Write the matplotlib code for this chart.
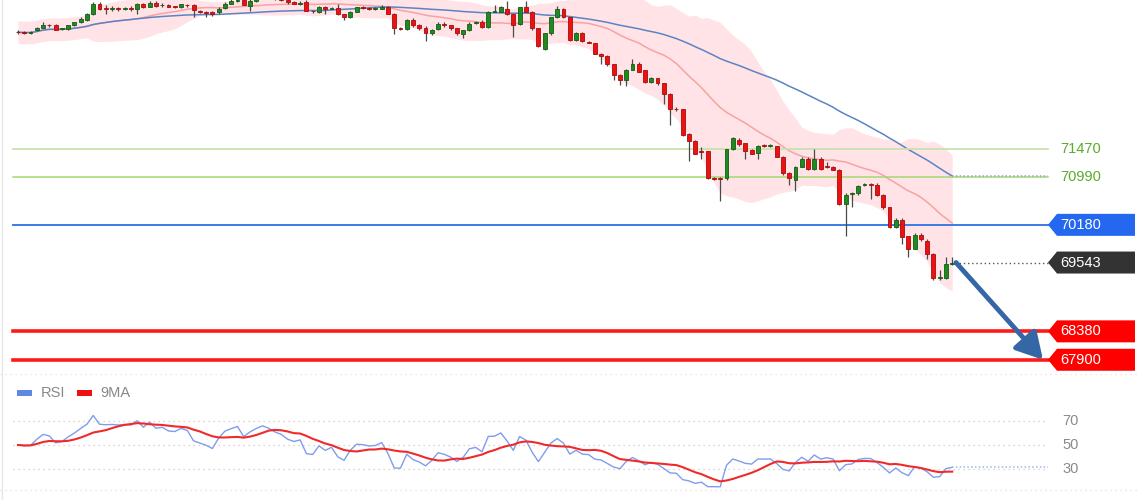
import numpy as np
import pandas as pd
import matplotlib.pyplot as plt
from matplotlib.patches import Polygon, Rectangle
from matplotlib.transforms import blended_transform_factory

plt.rcParams['font.family'] = ['Liberation Sans', 'DejaVu Sans']

# OHLC, one value per candle
opens = [73440, 73435, 73425, 73465, 73515, 73555, 73550, 73490, 73495, 73550,
         73600, 73650, 73735, 73920, 73835, 73830, 73835, 73830, 73840, 73835,
         73905, 73870, 73935, 73890, 73900, 73870, 73855, 73895, 73890, 73790,
         73775, 73785, 73770, 73850, 73920, 73955, 73985, 73885, 73960, 74010,
         74050, 74030, 74000, 73975, 73950, 73920, 73950, 73795, 73770, 73870,
         73835, 73850, 73735, 73685, 73785, 73855, 73845, 73835, 73835, 73855,
         73750, 73500, 73495, 73650, 73550, 73515, 73415, 73495, 73580, 73550,
         73500, 73400, 73465, 73590, 73615, 73530, 73785, 73785, 73835, 73735,
         73580, 73855, 73785, 73500, 73160, 73415, 73685, 73835, 73685, 73310,
         73430, 73265, 73245, 73075, 73040, 72890, 72720, 72635, 72805, 72905,
         72790, 72600, 72655, 72570, 72385, 72145, 72130, 71720, 71605, 71420,
         71420, 70965, 70960, 70965, 71455, 71620, 71555, 71450, 71400, 71520,
         71515, 71505, 71335, 71050, 70945, 71165, 71300, 71130, 71300, 71170,
         71165, 71115, 70525, 70700, 70710, 70850, 70860, 70860, 70690, 70475,
         70150, 70270, 69985, 69780, 70015, 69915, 69695, 69280, 69275, 69510]
closes = [73435, 73425, 73430, 73500, 73565, 73550, 73480, 73495, 73550, 73600,
          73665, 73735, 73920, 73835, 73830, 73835, 73830, 73840, 73835, 73905,
          73855, 73935, 73885, 73900, 73870, 73865, 73905, 73890, 73805, 73785,
          73765, 73735, 73835, 73920, 73955, 73985, 73900, 73960, 74010, 74050,
          74030, 74000, 73980, 73940, 73920, 73935, 73800, 73790, 73870, 73820,
          73850, 73735, 73685, 73785, 73855, 73850, 73835, 73840, 73870, 73750,
          73500, 73495, 73650, 73550, 73500, 73415, 73480, 73580, 73550, 73500,
          73415, 73465, 73580, 73600, 73530, 73785, 73790, 73855, 73735, 73565,
          73855, 73785, 73500, 73195, 73415, 73685, 73835, 73700, 73310, 73430,
          73280, 73260, 73075, 73040, 72890, 72720, 72635, 72805, 72905, 72770,
          72600, 72655, 72570, 72385, 72145, 72130, 71705, 71605, 71385, 71410,
          70965, 70960, 70955, 71455, 71640, 71540, 71420, 71385, 71520, 71515,
          71520, 71335, 71050, 70965, 71165, 71300, 71130, 71300, 71130, 71165,
          71115, 70525, 70690, 70710, 70830, 70860, 70855, 70690, 70475, 70150,
          70270, 69980, 69780, 70015, 69935, 69695, 69275, 69290, 69510, 69543]
highs = [73465, 73455, 73460, 73525, 73610, 73575, 73570, 73515, 73565, 73615,
         73685, 73760, 73950, 73945, 73900, 73880, 73870, 73870, 73875, 73930,
         73925, 73955, 73960, 73925, 73915, 73885, 73920, 73915, 73910, 73810,
         73800, 73800, 73855, 73940, 73990, 74010, 74010, 73990, 74040, 74080,
         74080, 74050, 74020, 73995, 73970, 73960, 73975, 73815, 73885, 73885,
         73870, 73905, 73750, 73800, 73870, 73875, 73860, 73860, 73895, 73875,
         73765, 73520, 73665, 73670, 73570, 73540, 73495, 73600, 73600, 73565,
         73515, 73480, 73600, 73625, 73635, 73800, 73890, 73880, 73960, 73750,
         73870, 73960, 73800, 73515, 73430, 73700, 73885, 73850, 73700, 73445,
         73445, 73285, 73260, 73090, 73055, 72905, 72735, 72820, 72990, 72925,
         72805, 72680, 72670, 72585, 72400, 72165, 72145, 71740, 71620, 71500,
         71435, 70985, 70985, 71470, 71670, 71640, 71570, 71470, 71535, 71545,
         71550, 71520, 71350, 71065, 71180, 71320, 71320, 71455, 71320, 71250,
         71180, 71130, 70710, 70730, 70850, 70880, 70895, 70880, 70705, 70490,
         70290, 70290, 70000, 70035, 70035, 69935, 69710, 69420, 69645, 69640]
lows = [73410, 73400, 73405, 73450, 73500, 73530, 73465, 73470, 73480, 73535,
        73585, 73630, 73720, 73815, 73750, 73790, 73800, 73805, 73800, 73735,
        73840, 73855, 73870, 73870, 73855, 73850, 73840, 73870, 73700, 73760,
        73700, 73715, 73750, 73835, 73905, 73940, 73890, 73800, 73945, 73990,
        74000, 73980, 73960, 73920, 73905, 73900, 73790, 73760, 73755, 73735,
        73820, 73720, 73635, 73670, 73770, 73830, 73815, 73815, 73820, 73735,
        73410, 73475, 73480, 73530, 73480, 73280, 73395, 73480, 73530, 73480,
        73395, 73345, 73450, 73575, 73515, 73515, 73770, 73770, 73720, 73360,
        73565, 73770, 73480, 73180, 73140, 73395, 73670, 73680, 73295, 73280,
        73265, 73245, 73060, 72890, 72870, 72635, 72550, 72520, 72790, 72755,
        72585, 72585, 72550, 72215, 71875, 72110, 71690, 71265, 71370, 71285,
        70950, 70945, 70575, 70945, 71440, 71520, 71285, 71370, 71300, 71495,
        71495, 71320, 71030, 70860, 70760, 71150, 71115, 71115, 71115, 71145,
        71100, 70510, 69985, 70475, 70690, 70830, 70610, 70675, 70455, 70135,
        70135, 69850, 69645, 69765, 69915, 69610, 69255, 69240, 69260, 69500]

resistances = [71470, 70990]
pivot = 70180
supports = [68380, 67900]
rsi_levels = [70, 50, 30]
rsi_seed = 30  # starting average gain/loss for the RSI

# indicators
close = pd.Series(closes, dtype=float)
ma20 = close.rolling(20, min_periods=1).mean()
sd20 = close.rolling(20, min_periods=12).std().bfill()
upper = ma20 + 2 * sd20
lower = ma20 - 2 * sd20
ma50 = close.rolling(50, min_periods=1).mean()

ag = al = rsi_seed
rsi = []
for d in close.diff().fillna(0):
    ag = (ag * 13 + max(d, 0)) / 14
    al = (al * 13 + max(-d, 0)) / 14
    rsi.append(100 * ag / (ag + al))
rsi = pd.Series(rsi)
rsi_ma = rsi.rolling(9, min_periods=1).mean()

# layout in pixels
W, H, split = 1140, 500, 373
x0, step = 18, 6.27
n = len(closes)
idx = np.arange(n)
x_end = (1048 - x0) / step
ytop = 73980
ppx = 16.9  # price per pixel

fig = plt.figure(figsize=(W / 100, H / 100), dpi=100)
fig.patch.set_facecolor('white')
ax = fig.add_axes([0, (H - split) / H, 1, split / H])
ax.set_xlim(-x0 / step, (W - x0) / step)
ax.set_ylim(ytop - ppx * split, ytop)
ax.axis('off')

ax.fill_between(idx, lower, upper, color='#ffe3e6', lw=0, zorder=0)
ax.plot(idx, ma20, color='#f7a3a3', lw=1.1, zorder=1)
ax.plot(idx, ma50, color='#5b84c4', lw=1.1, zorder=1)

o = np.array(opens)
c = np.array(closes)
up = c >= o
body_lo = np.minimum(o, c)
body_h = np.maximum(np.abs(c - o), 12)
ax.vlines(idx, lows, highs, color='#4a4a4a', lw=0.9, zorder=2)
ax.bar(idx[up], body_h[up], bottom=body_lo[up], width=0.62, color='#1f8a1f',
       edgecolor='#145c14', lw=0.6, zorder=3)
ax.bar(idx[~up], body_h[~up], bottom=body_lo[~up], width=0.62, color='#ee1111',
       edgecolor='#a80c0c', lw=0.6, zorder=3)

# horizontal levels
xa, xb = 13 / W, 1048 / W
ax.axhline(resistances[0], xa, xb, color='#c8e2ae', lw=1.3, zorder=1)
ax.axhline(resistances[1], xa, xb, color='#a3d870', lw=1.1, zorder=1)
ax.axhline(pivot, xa, xb, color='#3b7be9', lw=1.4, zorder=1)
for s in supports:
    ax.axhline(s, xa, xb, color='#ff1a1a', lw=2.6, zorder=1)

ax.plot([n - 1, x_end], [ma50.iloc[-1]] * 2, ls=(0, (1, 1.5)), color='#8aa3d2', lw=1.1)
ax.plot([n - 0.6, x_end], [closes[-1]] * 2, ls=(0, (1, 2)), color='#555555', lw=1)

tr = blended_transform_factory(ax.transAxes, ax.transData)
half = 11 * ppx
for r in resistances:
    ax.text(1060 / W, r, str(r), transform=tr, color='#5aab2b', fontsize=10.5,
            va='center', ha='left')


def tag(value, colour, text):
    pts = [(1048 / W, value), (1057 / W, value + half), (1135 / W, value + half),
           (1135 / W, value - half), (1057 / W, value - half)]
    ax.add_patch(Polygon(pts, closed=True, transform=tr, color=colour, lw=0,
                         clip_on=False, zorder=4))
    ax.text(1060 / W, value, text, transform=tr, color='white', fontsize=10.5,
            va='center', ha='left', zorder=5)


tag(pivot, '#2468f0', str(pivot))
tag(closes[-1], '#333333', f'{closes[-1]:.0f}')
for s in supports:
    tag(s, '#ff0000', str(s))

ax.annotate('', xy=((1043 - x0) / step, supports[1]), xytext=(n - 0.4, closes[-1]),
            arrowprops=dict(arrowstyle='-|>,head_length=0.8,head_width=0.45',
                            lw=3.5, color='#3566a6', mutation_scale=20,
                            shrinkA=0, shrinkB=0), zorder=6)

# RSI panel
ax2 = fig.add_axes([0, 0, 1, (H - split) / H])
ax2.set_xlim(ax.get_xlim())
ax2.set_ylim(50 - 55 / 1.215, 50 + 72 / 1.215)
ax2.axis('off')
tr2 = blended_transform_factory(ax2.transAxes, ax2.transData)

for v in rsi_levels:
    ax2.axhline(v, xa, xb, color='#d5c6c6', ls=(0, (1, 3)), lw=0.9)
    ax2.text(1062 / W, v, str(v), transform=tr2, color='#8a8a8a', fontsize=10.5,
             va='center', ha='left')
for v in [50 + 71 / 1.215, 50 - 45 / 1.215]:
    ax2.axhline(v, 0, 1, color='#f0d8d8', ls=(0, (1, 3)), lw=0.9)

ax2.plot(idx, rsi, color='#7f9ded', lw=1.0)
ax2.plot(idx, rsi_ma, color='#f02a2a', lw=1.5)
ax2.plot([n - 1, x_end], [rsi.iloc[-1]] * 2, ls=(0, (1, 1.5)), color='#9fb5ef', lw=1.1)

ly = 50 + (445 - 393) / 1.215
ax2.add_patch(Rectangle((17 / W, ly - 2.5), 15 / W, 5, transform=tr2, color='#5f88e2', lw=0))
ax2.text(41 / W, ly, 'RSI', transform=tr2, color='#888888', fontsize=10.5, va='center')
ax2.add_patch(Rectangle((77 / W, ly - 2.5), 15 / W, 5, transform=tr2, color='#ee1111', lw=0))
ax2.text(100 / W, ly, '9MA', transform=tr2, color='#888888', fontsize=10.5, va='center')

fig.add_artist(plt.Line2D([0.0015, 0.0015], [0, 1], color='#e8e8e8', lw=1))

fig.savefig('out.png', dpi=100)
